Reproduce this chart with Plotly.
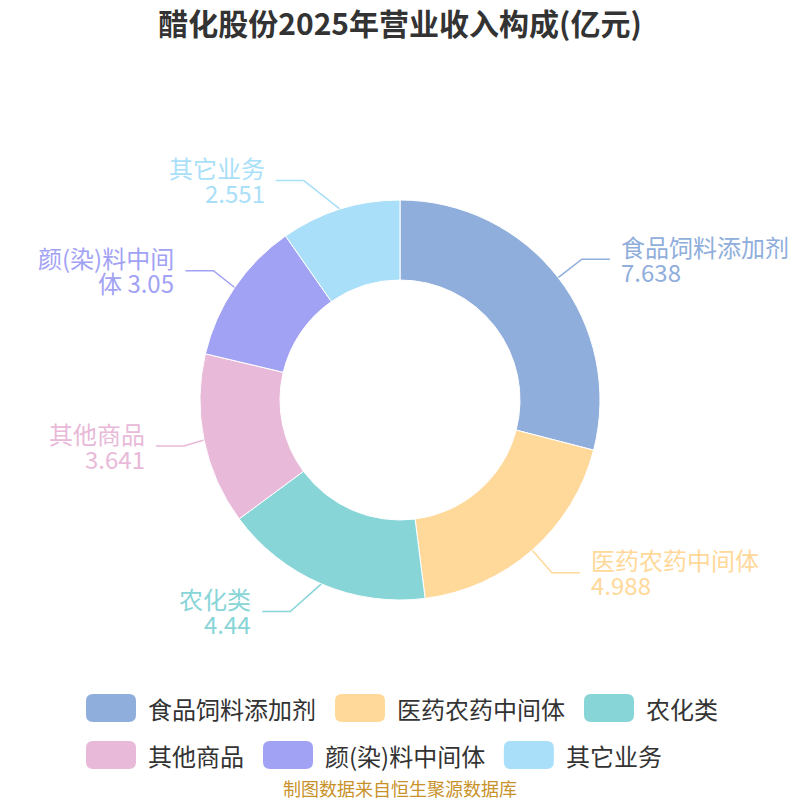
import math
import plotly.graph_objects as go

# revenue breakdown, 100 million yuan
categories = ["食品饲料添加剂", "医药农药中间体", "农化类", "其他商品", "颜(染)料中间体", "其它业务"]
values = [7.638, 4.988, 4.44, 3.641, 3.05, 2.551]
colors = ["#8faedb", "#ffd99a", "#88d5d8", "#e8b9d8", "#a2a2f5", "#a9dff9"]

title_text = "醋化股份2025年营业收入构成(亿元)"
source_text = "制图数据来自恒生聚源数据库"

FONT = "Noto Sans CJK SC"
W = H = 800
OFF = 8  # page body margin, so layout is done in screen pixels minus this
cx, cy, R = 400 - OFF, 400 - OFF, 200
HOLE = 0.6


def text_w(s, size):
    w = 0
    for ch in s:
        if ch in "()":
            w += 0.33
        elif ch == " ":
            w += 0.25
        elif ch.isascii():
            w += 0.56
        else:
            w += 1.0
    return w * size


def wrap_label(name, val, max_w, size):
    # name + value on two lines; overflow of the name moves to line two
    if text_w(name, size) <= max_w:
        return name, val
    k = len(name)
    while k > 1 and text_w(name[:k], size) > max_w:
        k -= 1
    return name[:k], name[k:] + " " + val


fig = go.Figure()

fig.add_trace(go.Pie(
    labels=categories, values=values, hole=HOLE, sort=False,
    direction="clockwise", rotation=0,
    marker=dict(colors=colors, line=dict(color="#ffffff", width=1)),
    textinfo="none", hoverinfo="label+value",
    domain=dict(x=[(cx - R) / W, (cx + R) / W], y=[1 - (cy + R) / H, 1 - (cy - R) / H]),
    showlegend=False,
))

# outside labels with leader lines
LEN1, LEN2, GAP, LBL = 30, 28, 9, 24
total = sum(values)
annotations = []
acc = 0
for name, v, col in zip(categories, values, colors):
    mid = (acc + v / 2) / total * 2 * math.pi
    acc += v
    sx, sy = math.sin(mid), -math.cos(mid)
    x0, y0 = cx + R * sx, cy + R * sy
    ey = cy + (R + LEN1) * sy
    if sx >= 0:
        side = 1
        ex = cx + (R + LEN1) * sx
    else:
        side = -1
        rA, rB = R + 20, 244
        dy = abs(ey - cy)
        ex = cx - rA * math.sqrt(max(0, 1 - (dy / rB) ** 2))
    hx = ex + side * LEN2
    fig.add_trace(go.Scatter(
        x=[x0, ex, hx], y=[y0, ey, ey], mode="lines",
        line=dict(color=col, width=1.5), hoverinfo="skip", showlegend=False,
    ))
    max_w = 1000 if side > 0 else 6 * LBL
    l1, l2 = wrap_label(name, f"{v:g}", max_w, LBL)
    for txt, dyl in ((l1, -13), (l2, 12)):
        annotations.append(dict(
            x=hx + side * GAP, y=ey + dyl, xref="x", yref="y", text=txt,
            showarrow=False, xanchor="left" if side > 0 else "right", yanchor="middle",
            font=dict(family=FONT, size=LBL, color=col),
        ))

# legend: rounded swatches, three per row, rows left aligned
shapes = []
LEG_X, LEG_Y, ROW_H, SW, SH, LEG_FS = 86 - OFF, 708 - OFF, 47, 50, 28, 24
for i, (name, col) in enumerate(zip(categories, colors)):
    row, colpos = divmod(i, 3)
    if colpos == 0:
        x = LEG_X
    y = LEG_Y + row * ROW_H
    r = 7
    x1, x2, y1, y2 = x, x + SW, y - SH / 2, y + SH / 2
    path = (f"M{x1 + r},{y1} L{x2 - r},{y1} Q{x2},{y1} {x2},{y1 + r} "
            f"L{x2},{y2 - r} Q{x2},{y2} {x2 - r},{y2} L{x1 + r},{y2} "
            f"Q{x1},{y2} {x1},{y2 - r} L{x1},{y1 + r} Q{x1},{y1} {x1 + r},{y1} Z")
    shapes.append(dict(type="path", path=path, xref="x", yref="y",
                       fillcolor=col, line=dict(width=0)))
    annotations.append(dict(
        x=x + SW + 10, y=y, xref="x", yref="y", text=name, showarrow=False,
        xanchor="left", yanchor="middle", font=dict(family=FONT, size=LEG_FS, color="#333333"),
    ))
    x += SW + 10 + text_w(name, LEG_FS) + 21

annotations.append(dict(
    x=400 - OFF, y=788 - OFF, xref="x", yref="y", text=source_text, showarrow=False,
    xanchor="center", yanchor="middle", font=dict(family=FONT, size=18, color="#c8922a"),
))

fig.update_layout(
    width=W, height=H,
    margin=dict(l=0, r=0, t=0, b=0),
    paper_bgcolor="#ffffff", plot_bgcolor="#ffffff",
    title=dict(text=f"<b>{title_text}</b>", x=(400 - OFF) / W, xanchor="center",
               y=1 - (24 - OFF) / H, yanchor="middle",
               font=dict(family=FONT, size=30, color="#333333")),
    xaxis=dict(range=[0, W], visible=False, fixedrange=True),
    yaxis=dict(range=[H, 0], visible=False, fixedrange=True),
    shapes=shapes,
    annotations=annotations,
    showlegend=False,
)

fig.write_html("out.html")
